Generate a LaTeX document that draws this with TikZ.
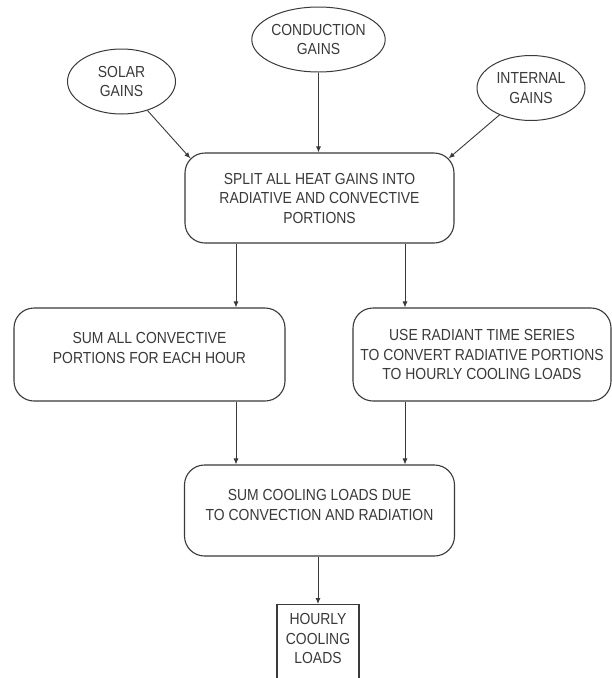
\documentclass[tikz,border=0pt]{standalone}
\usepackage{fontspec}
\setmainfont{Liberation Sans}[FakeStretch=0.87]
\usetikzlibrary{shapes.geometric,arrows.meta,calc}
\definecolor{ink}{HTML}{3A3A3A}
\begin{document}
\begin{tikzpicture}[x=1pt,y=-1pt,
  every node/.style={font=\fontsize{16}{19.5}\selectfont, text=ink, align=center},
  oval/.style={draw=ink, line width=1pt, ellipse, minimum width=108pt, minimum height=65pt, inner sep=0pt},
  rbox/.style={draw=ink, line width=1.1pt, rounded corners=20pt, inner sep=0pt},
  sqbox/.style={draw=ink, line width=1.1pt, inner xsep=0pt, inner ysep=9pt, anchor=north, minimum width=82pt},
  arr/.style={draw=ink, line width=0.9pt, -{Latex[length=6pt,width=5pt]}}]
\fill[white] (0,0) rectangle (612,678);
\useasboundingbox (0,0) rectangle (612,678);
% ellipses
\node[oval] (solar) at (121.5,81.5) {SOLAR\\GAINS};
\node[oval] (cond) at (318.5,39.5) {CONDUCTION\\GAINS};
\node[oval] (intern) at (531,88) {INTERNAL\\GAINS};
% boxes
\node[rbox, minimum width=269pt, minimum height=90pt] (split) at (319.5,198)
  {SPLIT ALL HEAT GAINS INTO\\RADIATIVE AND CONVECTIVE\\PORTIONS};
\node[rbox, minimum width=271pt, minimum height=93pt] (left) at (149.5,354.5)
  {SUM ALL CONVECTIVE\\PORTIONS FOR EACH HOUR\\[-6pt]\mbox{}};
\node[rbox, minimum width=258pt, minimum height=93pt] (right) at (482,354.5)
  {USE RADIANT TIME SERIES\\TO CONVERT RADIATIVE PORTIONS\\TO HOURLY COOLING LOADS};
\node[rbox, minimum width=270pt, minimum height=91pt] (sum) at (319.5,510.5)
  {SUM COOLING LOADS DUE\\TO CONVECTION AND RADIATION\\[-8pt]\mbox{}};
\node[sqbox] (hourly) at (318,604) {HOURLY\\COOLING\\LOADS\\\mbox{}};
% helper coordinates
\coordinate (tl) at ($(split.north west)+(5.9pt,-5.9pt)$);
\coordinate (tr) at ($(split.north east)+(-5.9pt,-5.9pt)$);
\coordinate (lx) at (236,0);
\coordinate (rx) at (405,0);
% connectors
\draw[arr] (solar) -- (tl);
\draw[arr] (cond) -- (cond.south |- split.north);
\draw[arr] (intern) -- (tr);
\draw[arr] (split.south -| lx) -- (left.north -| lx);
\draw[arr] (split.south -| rx) -- (right.north -| rx);
\draw[arr] (left.south -| lx) -- (sum.north -| lx);
\draw[arr] (right.south -| rx) -- (sum.north -| rx);
\draw[arr] (sum.south -| hourly.north) -- (hourly.north);
\end{tikzpicture}
\end{document}
